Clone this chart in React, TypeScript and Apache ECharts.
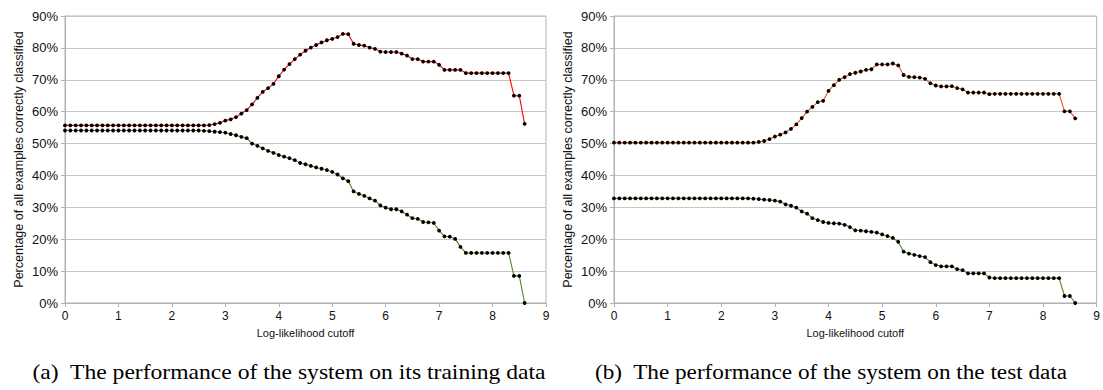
import React, { useEffect, useRef } from "react";
import * as echarts from "echarts";

const cutoffs = [
  0, 0.1, 0.2, 0.3, 0.4, 0.5, 0.6, 0.7, 0.8, 0.9,
  1, 1.1, 1.2, 1.3, 1.4, 1.5, 1.6, 1.7, 1.8, 1.9,
  2, 2.1, 2.2, 2.3, 2.4, 2.5, 2.6, 2.7, 2.8, 2.9,
  3, 3.1, 3.2, 3.3, 3.4, 3.5, 3.6, 3.7, 3.8, 3.9,
  4, 4.1, 4.2, 4.3, 4.4, 4.5, 4.6, 4.7, 4.8, 4.9,
  5, 5.1, 5.2, 5.3, 5.4, 5.5, 5.6, 5.7, 5.8, 5.9,
  6, 6.1, 6.2, 6.3, 6.4, 6.5, 6.6, 6.7, 6.8, 6.9,
  7, 7.1, 7.2, 7.3, 7.4, 7.5, 7.6, 7.7, 7.8, 7.9,
  8, 8.1, 8.2, 8.3, 8.4, 8.5, 8.6,
];

const trainUpper = [
  55.7, 55.7, 55.7, 55.7, 55.7, 55.7, 55.7, 55.7, 55.7, 55.7,
  55.7, 55.7, 55.7, 55.7, 55.7, 55.7, 55.7, 55.7, 55.7, 55.7,
  55.7, 55.7, 55.7, 55.7, 55.7, 55.7, 55.7, 55.8, 56.1, 56.5,
  57.2, 57.6, 58.3, 59.4, 60.5, 62.3, 64.3, 66.2, 67.4, 68.7,
  71.1, 73.2, 74.9, 76.5, 77.9, 79.1, 80.1, 80.9, 81.7, 82.4,
  82.8, 83.4, 84.4, 84.3, 81.3, 80.9, 80.7, 80.1, 79.7, 78.8,
  78.7, 78.7, 78.7, 78.2, 77.6, 76.5, 76.5, 75.7, 75.7, 75.7,
  74.7, 73.1, 73.1, 73.1, 73.1, 72.1, 72.1, 72.1, 72.1, 72.1,
  72.1, 72.1, 72.1, 72.1, 65.0, 65.0, 56.2,
];

const trainLower = [
  54.1, 54.1, 54.1, 54.1, 54.1, 54.1, 54.1, 54.1, 54.1, 54.1,
  54.1, 54.1, 54.1, 54.1, 54.1, 54.1, 54.1, 54.1, 54.1, 54.1,
  54.1, 54.1, 54.1, 54.1, 54.1, 54.1, 54.0, 53.9, 53.7, 53.6,
  53.4, 53.0, 52.6, 52.1, 51.7, 50.0, 49.3, 48.5, 47.7, 47.1,
  46.4, 45.9, 45.4, 44.8, 43.9, 43.5, 43.0, 42.5, 42.1, 41.7,
  41.1, 40.3, 39.1, 38.2, 35.0, 34.2, 33.6, 32.8, 32.1, 30.6,
  29.9, 29.4, 29.4, 28.7, 27.7, 26.6, 26.4, 25.4, 25.3, 25.1,
  22.7, 20.9, 20.8, 20.1, 17.6, 15.7, 15.7, 15.7, 15.7, 15.7,
  15.7, 15.7, 15.7, 15.7, 8.5, 8.5, 0,
];

const testUpper = [
  50.3, 50.3, 50.3, 50.3, 50.3, 50.3, 50.3, 50.3, 50.3, 50.3,
  50.3, 50.3, 50.3, 50.3, 50.3, 50.3, 50.3, 50.3, 50.3, 50.3,
  50.3, 50.3, 50.3, 50.3, 50.3, 50.3, 50.3, 50.5, 50.8, 51.4,
  52.2, 52.8, 53.5, 54.6, 56.0, 58.0, 60.0, 61.5, 63.0, 63.4,
  66.5, 68.3, 70.0, 70.8, 71.8, 72.2, 72.6, 73.1, 73.3, 74.8,
  74.8, 74.8, 75.1, 74.5, 71.5, 70.9, 70.8, 70.7, 70.3, 68.9,
  68.2, 67.9, 67.9, 68.0, 67.4, 67.0, 66.0, 66.0, 66.0, 66.0,
  65.5, 65.6, 65.6, 65.6, 65.6, 65.6, 65.6, 65.6, 65.6, 65.6,
  65.6, 65.6, 65.6, 65.6, 60.1, 60.1, 57.9,
];

const testLower = [
  32.8, 32.8, 32.8, 32.8, 32.8, 32.8, 32.8, 32.8, 32.8, 32.8,
  32.8, 32.8, 32.8, 32.8, 32.8, 32.8, 32.8, 32.8, 32.8, 32.8,
  32.8, 32.8, 32.8, 32.8, 32.8, 32.8, 32.7, 32.6, 32.4, 32.3,
  32.1, 31.8, 30.9, 30.5, 29.9, 28.7, 28.0, 26.6, 26.0, 25.4,
  25.1, 25.0, 24.9, 24.5, 23.8, 22.8, 22.7, 22.5, 22.3, 22.1,
  21.5, 21.0, 20.4, 19.2, 16.1, 15.5, 15.1, 14.7, 14.4, 12.8,
  11.9, 11.5, 11.5, 11.5, 10.6, 10.3, 9.3, 9.3, 9.3, 9.3,
  8.0, 7.8, 7.8, 7.8, 7.8, 7.8, 7.8, 7.8, 7.8, 7.8,
  7.8, 7.8, 7.8, 7.8, 2.2, 2.2, 0,
];

const xTitle = "Log-likelihood cutoff";
const yTitle = "Percentage of all examples correctly classified";
const captions = [
  "(a)  The performance of the system on its training data",
  "(b)  The performance of the system on the test data",
];

const pairs = (ys: number[]) => cutoffs.map((x, i) => [x, ys[i]]);

const FONT = "'Liberation Sans', Arial, sans-serif";
const SERIF = "'Liberation Serif', 'Times New Roman', serif";
const GRID_C = "#c6c6c6";
const AXIS_C = "#b3b3b3";

function makeX(gridIndex: number) {
  return {
    type: "value",
    gridIndex,
    min: 0,
    max: 9,
    interval: 1,
    name: xTitle,
    nameLocation: "middle",
    nameGap: 24,
    nameTextStyle: { fontFamily: FONT, fontSize: 11, color: "#111" },
    axisLine: { show: true, lineStyle: { color: AXIS_C, width: 1 } },
    axisTick: { show: true, length: 4, inside: false, lineStyle: { color: AXIS_C } },
    axisLabel: { fontFamily: FONT, fontSize: 12, color: "#111", margin: 7 },
    splitLine: { show: false },
  };
}

function makeY(gridIndex: number) {
  return {
    type: "value",
    gridIndex,
    min: 0,
    max: 90,
    interval: 10,
    name: yTitle,
    nameLocation: "middle",
    nameGap: 40,
    nameRotate: 90,
    nameTextStyle: { fontFamily: FONT, fontSize: 12.5, color: "#111" },
    axisLine: { show: true, lineStyle: { color: AXIS_C, width: 1 } },
    axisTick: { show: true, length: 4, lineStyle: { color: AXIS_C } },
    axisLabel: {
      fontFamily: FONT,
      fontSize: 13,
      color: "#111",
      margin: 7,
      formatter: "{value}%",
    },
    splitLine: { show: true, lineStyle: { color: GRID_C, width: 1.2 } },
  };
}

function makeSeries(name: string, ys: number[], color: string, idx: number) {
  return {
    name,
    type: "line",
    xAxisIndex: idx,
    yAxisIndex: idx,
    data: pairs(ys),
    symbol: "circle",
    symbolSize: 3.8,
    showSymbol: true,
    lineStyle: { color, width: 1.1 },
    itemStyle: { color: "#000", borderWidth: 0 },
    emphasis: { disabled: true },
  };
}

function caption(text: string, cx: number, sx: number) {
  return {
    type: "text",
    x: cx,
    y: 373,
    scaleX: sx,
    style: {
      text,
      fontFamily: SERIF,
      fontSize: 20,
      fill: "#000",
      align: "center",
      verticalAlign: "middle",
    },
  };
}

export default function App() {
  const ref = useRef<HTMLDivElement>(null);
  useEffect(() => {
    if (!ref.current) return;
    const chart = echarts.init(ref.current, undefined, { renderer: "svg" });
    chart.setOption({
      animation: false,
      backgroundColor: "#fff",
      grid: [
        { left: 65, top: 16, width: 481, height: 287, show: true, borderColor: AXIS_C, borderWidth: 1 },
        { left: 614, top: 16, width: 486, height: 287, show: true, borderColor: AXIS_C, borderWidth: 1 },
      ],
      xAxis: [makeX(0), makeX(1)],
      yAxis: [makeY(0), makeY(1)],
      series: [
        makeSeries("Training upper", trainUpper, "#ff0000", 0),
        makeSeries("Training lower", trainLower, "#4f8a1c", 0),
        makeSeries("Test upper", testUpper, "#ff4a1a", 1),
        makeSeries("Test lower", testLower, "#4f8a1c", 1),
      ],
      graphic: [caption(captions[0], 289, 1.18), caption(captions[1], 831, 1.16)],
    });
    return () => chart.dispose();
  }, []);
  return (
    <div
      ref={ref}
      style={{ position: "fixed", left: 0, top: 0, width: 1103, height: 390, background: "#fff" }}
    />
  );
}
